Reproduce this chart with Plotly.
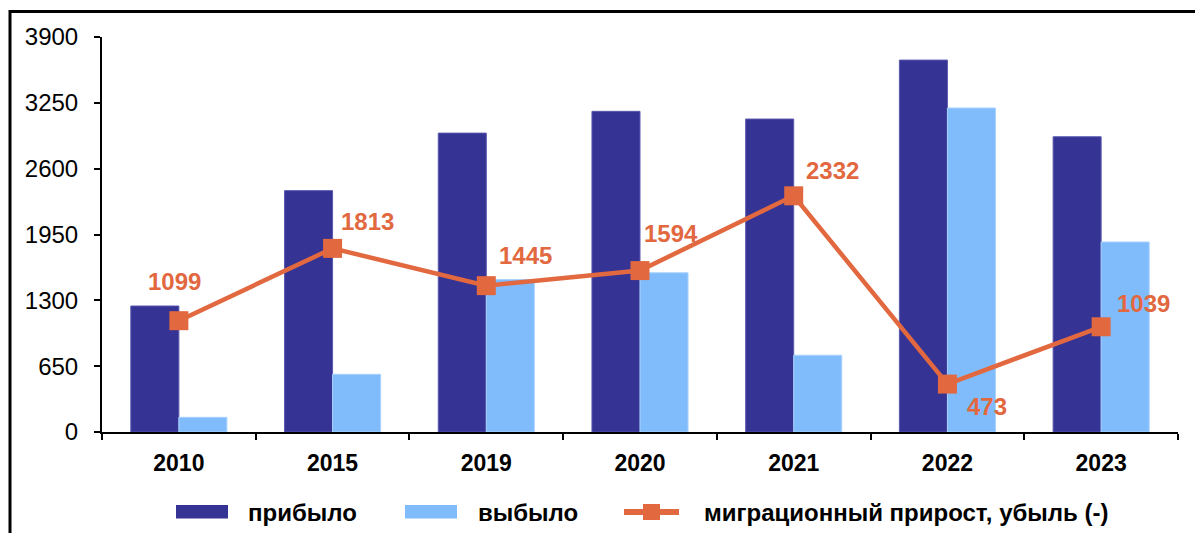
import plotly.graph_objects as go

years = ["2010", "2015", "2019", "2020", "2021", "2022", "2023"]
arrived = [1244, 2383, 2951, 3166, 3090, 3672, 2915]
departed = [145, 570, 1506, 1572, 758, 3199, 1876]
migration = [1099, 1813, 1445, 1594, 2332, 473, 1039]
y_ticks = [0, 650, 1300, 1950, 2600, 3250, 3900]
names = ["прибыло", "выбыло", "миграционный прирост, убыль (-)"]

# label offsets (pixels) relative to the marker
label_dx = [-4, 35, 39, 31, 39, 40, 42]
label_dy = [39, 27, 30, 37, 25, -22, 23]

# the page body adds an 8px margin around the figure; compensate for it
OFF = 8
W, H = 1203 - OFF, 533 - OFF
ml, mr, mt, mb = 102 - OFF, 25, 37 - OFF, 101
pw, ph = W - ml - mr, H - mt - mb

FONT = "Liberation Sans, Arial, sans-serif"
dark = "#353393"
light = "#80BCFC"
orange = "#E2683F"

fig = go.Figure()
fig.add_trace(go.Bar(x=years, y=arrived, name=names[0], showlegend=False,
                     marker=dict(color=dark, line=dict(color="#5a58b0", width=1))))
fig.add_trace(go.Bar(x=years, y=departed, name=names[1], showlegend=False,
                     marker=dict(color=light, line=dict(color="#a8d2ff", width=1))))
fig.add_trace(go.Scatter(x=years, y=migration, name=names[2], showlegend=False,
                         mode="lines+markers",
                         line=dict(color=orange, width=4.5),
                         marker=dict(symbol="square", size=19, color=orange)))

for i, (v, dx, dy) in enumerate(zip(migration, label_dx, label_dy)):
    fig.add_annotation(x=i, y=v, xref="x", yref="y", text=f"<b>{v}</b>", showarrow=False,
                       xshift=dx, yshift=dy,
                       font=dict(family=FONT, size=24, color=orange))

# page pixel -> paper coordinates
def px_x(px):
    return (px - OFF - ml) / pw

def px_y(py):
    return (H - mb - (py - OFF)) / ph

# outer frame
fig.add_shape(type="rect", xref="paper", yref="paper",
              x0=px_x(10), x1=px_x(1215), y0=px_y(545), y1=px_y(11.5),
              line=dict(color="black", width=3), layer="below")

# custom legend
ly = 512
fig.add_shape(type="rect", xref="paper", yref="paper",
              x0=px_x(176), x1=px_x(228), y0=px_y(518.5), y1=px_y(505),
              fillcolor=dark, line=dict(width=0))
fig.add_shape(type="rect", xref="paper", yref="paper",
              x0=px_x(405), x1=px_x(457), y0=px_y(518.5), y1=px_y(505),
              fillcolor=light, line=dict(width=0))
fig.add_shape(type="line", xref="paper", yref="paper",
              x0=px_x(624), x1=px_x(679), y0=px_y(ly), y1=px_y(ly),
              line=dict(color=orange, width=6))
fig.add_shape(type="rect", xref="paper", yref="paper",
              x0=px_x(643), x1=px_x(660), y0=px_y(520), y1=px_y(504),
              fillcolor=orange, line=dict(width=0))
for name, tx in zip(names, [246, 476, 702]):
    fig.add_annotation(xref="paper", yref="paper", x=px_x(tx), y=px_y(ly),
                       xanchor="left", yanchor="middle", showarrow=False,
                       text=f"<b>{name}</b>",
                       font=dict(family=FONT, size=24, color="black"))

fig.update_layout(
    width=W, height=H,
    margin=dict(l=ml, r=mr, t=mt, b=mb, autoexpand=False),
    paper_bgcolor="white", plot_bgcolor="white",
    barmode="group", bargap=0.375, bargroupgap=0,
    font=dict(family=FONT, size=18, color="black"),
    showlegend=False,
    xaxis=dict(type="category", categoryorder="array", categoryarray=years,
               range=[-0.5, len(years) - 0.5], autorange=False, automargin=False,
               showline=True, linecolor="black", linewidth=2,
               ticks="outside", ticklen=6, tickwidth=2, tickcolor="black",
               tickson="boundaries", ticklabelstandoff=9,
               tickfont=dict(family=FONT, size=23, color="black", weight="bold"),
               showgrid=False, zeroline=False),
    yaxis=dict(range=[0, 3900], autorange=False, automargin=False, tickvals=y_ticks,
               showline=True, linecolor="black", linewidth=2, ticks="outside", ticklen=6,
               tickwidth=1.5, tickcolor="black", ticklabelstandoff=11,
               tickfont=dict(family=FONT, size=24, color="black"),
               showgrid=False, zeroline=False),
)

fig.write_html("out.html")
